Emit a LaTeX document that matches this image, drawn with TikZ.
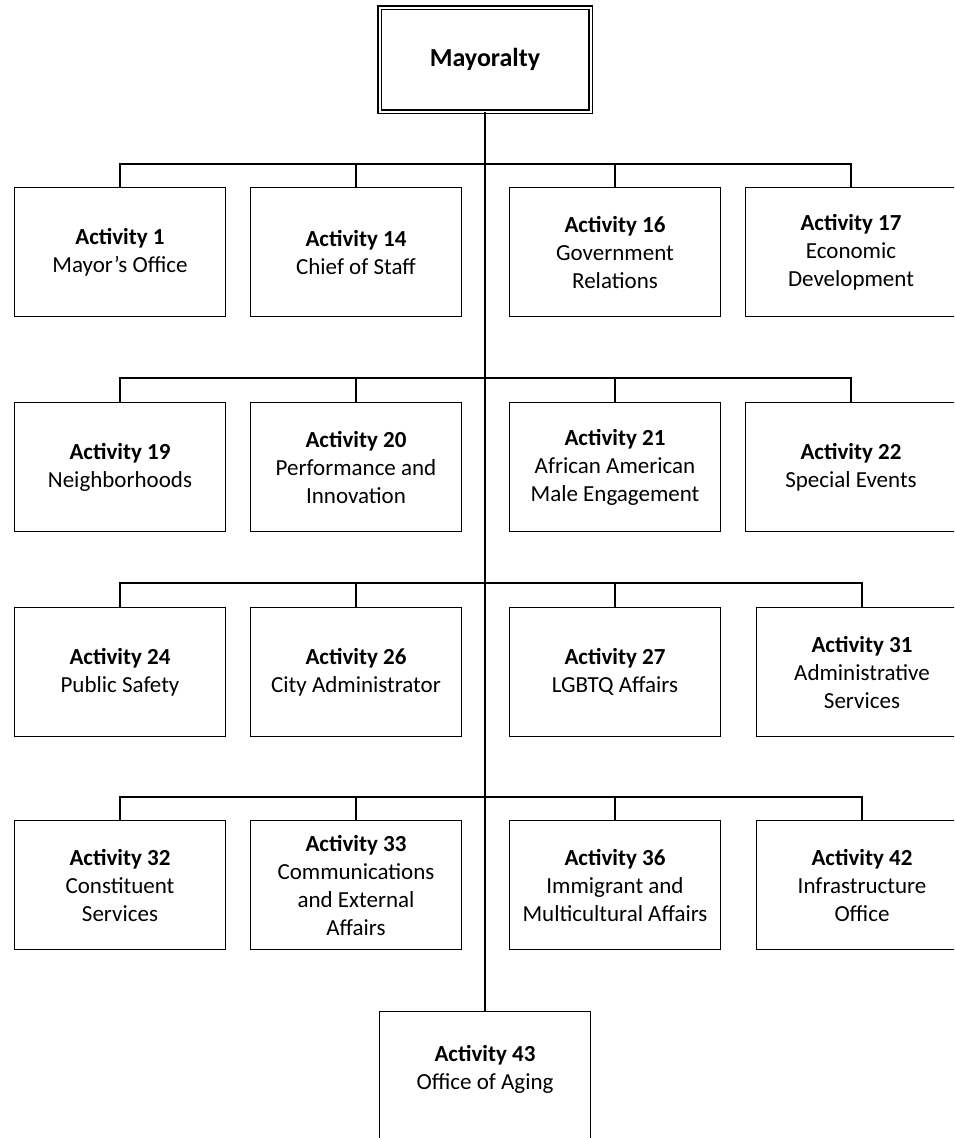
\documentclass[tikz,border=0pt]{standalone}
\usepackage{fontspec}
\setmainfont{Carlito}
\begin{document}
\begin{tikzpicture}[x=1pt,y=-1pt,
    unit/.style={draw, line width=1.3pt, minimum width=211pt, minimum height=129pt,
        inner sep=0pt, align=center, font=\fontsize{23}{28}\selectfont},
    link/.style={line width=1.3pt}]

        \path[use as bounding box] (0,0) rectangle (954,1138);
        \clip (0,0) rectangle (954,1138);
%        \draw[style=help lines, step=50] (0,0) grid (954,1138);

        % top box
        \node[draw, double, double distance=2pt, line width=1.1pt, minimum width=211pt,
              minimum height=104pt, font=\bfseries\fontsize{26}{30}\selectfont]
              (may) at (485,59.5) {Mayoralty};

        % first row
        \node[unit] (a1)  at (120,252) {\textbf{Activity 1}\\Mayor’s Office};
        \node[unit] (a14) at (356,252) {\textbf{Activity 14}\\Chief of Staff};
        \node[unit] (a16) at (615,252) {\textbf{Activity 16}\\Government\\Relations};
        \node[unit] (a17) at (851,252) {\textbf{Activity 17}\\Economic\\Development};

        % second row
        \node[unit] (a19) at (120,467) {\textbf{Activity 19}\\Neighborhoods};
        \node[unit] (a20) at (356,467) {\textbf{Activity 20}\\Performance and\\Innovation};
        \node[unit] (a21) at (615,467) {\textbf{Activity 21}\\African American\\Male Engagement};
        \node[unit] (a22) at (851,467) {\textbf{Activity 22}\\Special Events};

        % third row
        \node[unit] (a24) at (120,672) {\textbf{Activity 24}\\Public Safety};
        \node[unit] (a26) at (356,672) {\textbf{Activity 26}\\City Administrator};
        \node[unit] (a27) at (615,672) {\textbf{Activity 27}\\LGBTQ Affairs};
        \node[unit] (a31) at (862,672) {\textbf{Activity 31}\\Administrative\\Services};

        % fourth row
        \node[unit] (a32) at (120,885) {\textbf{Activity 32}\\Constituent\\Services};
        \node[unit] (a33) at (356,885) {\textbf{Activity 33}\\Communications\\and External\\Affairs};
        \node[unit] (a36) at (615,885) {\textbf{Activity 36}\\Immigrant and\\Multicultural Affairs};
        \node[unit] (a42) at (862,885) {\textbf{Activity 42}\\Infrastructure\\Office};

        % last box, runs off the page
        \node[unit, text depth=17pt] (a43) at (485,1076) {\textbf{Activity 43}\\Office of Aging};

        \coordinate (bus1) at (485,164);
        \coordinate (bus2) at (485,378);
        \coordinate (bus3) at (485,583);
        \coordinate (bus4) at (485,797);

        \draw[link] (may) -- (a43);
        \foreach \n in {1,14,16,17}
            \draw[link] (bus1) -| (a\n);
        \foreach \n in {19,20,21,22}
            \draw[link] (bus2) -| (a\n);
        \foreach \n in {24,26,27,31}
            \draw[link] (bus3) -| (a\n);
        \foreach \n in {32,33,36,42}
            \draw[link] (bus4) -| (a\n);

\end{tikzpicture}
\end{document}
